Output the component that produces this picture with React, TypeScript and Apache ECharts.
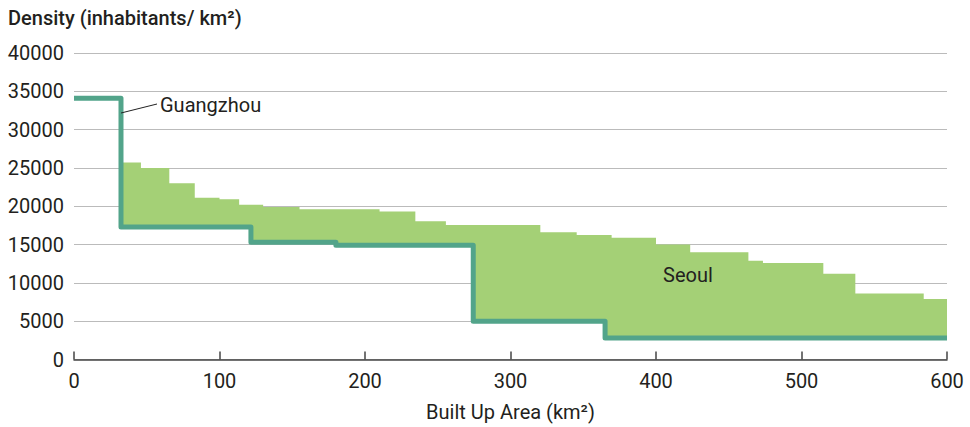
import React, { useEffect, useRef } from "react";
import * as echarts from "echarts";

// Guangzhou step function: segment start x and value (segment ends at next start or X_MAX)
const guangzhouX = [0, 32.3, 121.6, 180, 274.4, 365];
const guangzhouY = [34100, 17300, 15300, 14900, 5000, 2800];

// Seoul step function (upper edge of green area)
const seoulX = [32.3, 46, 65.5, 83, 100, 113.5, 130, 155, 210, 234.6, 255.6, 320.5, 345.5, 369.5, 400, 423.5, 463.5, 473.5, 515, 537, 584];
const seoulY = [25700, 25000, 23000, 21100, 20900, 20200, 19900, 19600, 19300, 18050, 17550, 16600, 16250, 15900, 15000, 14000, 12900, 12600, 11200, 8600, 7900];

const X_MIN = 0;
const X_MAX = 600;
const X_STEP = 100;
const Y_MIN = 0;
const Y_MAX = 40000;
const Y_STEP = 5000;

const yAxisTitle = "Density (inhabitants/ km²)";
const xAxisTitle = "Built Up Area (km²)";
const labelGuangzhou = "Guangzhou";
const labelSeoul = "Seoul";

const FONT = "Roboto, 'Liberation Sans', sans-serif";
const FS = 20;
const TEXT = "#231f20";
const GREEN = "#a4d076";
const TEAL = "#52a48a";

export default function App() {
  const ref = useRef<HTMLDivElement>(null);
  useEffect(() => {
    if (!ref.current) return;
    const chart = echarts.init(ref.current, null, { renderer: "svg" });
    const lineData = guangzhouX.map((x, i) => [x, guangzhouY[i]]);
    lineData.push([X_MAX, guangzhouY[guangzhouY.length - 1]]);

    chart.setOption({
      animation: false,
      grid: { left: 74, right: 23, top: 53, bottom: 67.5, containLabel: false, outerBoundsMode: "none" },
      xAxis: {
        type: "value",
        min: X_MIN,
        max: X_MAX,
        interval: X_STEP,
        name: xAxisTitle,
        nameLocation: "middle",
        nameGap: 42,
        nameTextStyle: { fontFamily: FONT, fontSize: FS, color: TEXT },
        axisLine: { show: true, lineStyle: { color: "#444", width: 1.5 } },
        axisTick: { show: true, inside: true, length: 8, lineStyle: { color: "#444", width: 1.5 } },
        axisLabel: { fontFamily: FONT, fontSize: FS, color: TEXT, margin: 11, formatter: (v: number) => String(v) },
        splitLine: { show: false },
      },
      yAxis: {
        type: "value",
        min: Y_MIN,
        max: Y_MAX,
        interval: Y_STEP,
        axisLine: { show: false },
        axisTick: { show: false },
        axisLabel: { fontFamily: FONT, fontSize: FS, color: TEXT, margin: 10, formatter: (v: number) => String(v) },
        splitLine: { show: true, lineStyle: { color: "#bbbbbb", width: 1.2 } },
      },
      series: [
        {
          type: "custom",
          name: "Seoul",
          z: 2,
          data: [[seoulX[0], seoulY[0]]],
          encode: { x: 0, y: 1 },
          renderItem: (_params: any, api: any) => {
            const pts: number[][] = [];
            for (let i = 0; i < seoulX.length; i++) {
              const x0 = seoulX[i];
              const x1 = i + 1 < seoulX.length ? seoulX[i + 1] : X_MAX;
              pts.push(api.coord([x0, seoulY[i]]));
              pts.push(api.coord([x1, seoulY[i]]));
            }
            for (let i = guangzhouX.length - 1; i >= 0; i--) {
              const x1 = i + 1 < guangzhouX.length ? guangzhouX[i + 1] : X_MAX;
              if (x1 <= seoulX[0]) continue;
              const x0 = Math.max(guangzhouX[i], seoulX[0]);
              pts.push(api.coord([x1, guangzhouY[i]]));
              pts.push(api.coord([x0, guangzhouY[i]]));
            }
            return { type: "polygon", shape: { points: pts }, style: { fill: GREEN } };
          },
        },
        {
          type: "line",
          name: "Guangzhou",
          z: 3,
          step: "end",
          showSymbol: false,
          data: lineData,
          lineStyle: { color: TEAL, width: 5, join: "round" },
        },
      ],
      graphic: [
        {
          type: "text",
          x: 8,
          y: 18,
          style: { text: yAxisTitle, fontFamily: FONT, fontSize: FS, fontWeight: 500, fill: TEXT, verticalAlign: "middle" },
        },
        {
          type: "text",
          x: 160,
          y: 105,
          style: { text: labelGuangzhou, fontFamily: FONT, fontSize: FS, fill: TEXT, verticalAlign: "middle" },
        },
        {
          type: "line",
          shape: { x1: 121, y1: 113, x2: 157, y2: 104 },
          style: { stroke: "#222", lineWidth: 1 },
          z: 10,
        },
        {
          type: "text",
          x: 663,
          y: 275,
          z: 10,
          style: { text: labelSeoul, fontFamily: FONT, fontSize: FS, fill: TEXT, verticalAlign: "middle" },
        },
      ],
    });
    return () => chart.dispose();
  }, []);
  return <div ref={ref} style={{ position: "absolute", left: 0, top: 0, width: 970, height: 427 }} />;
}
